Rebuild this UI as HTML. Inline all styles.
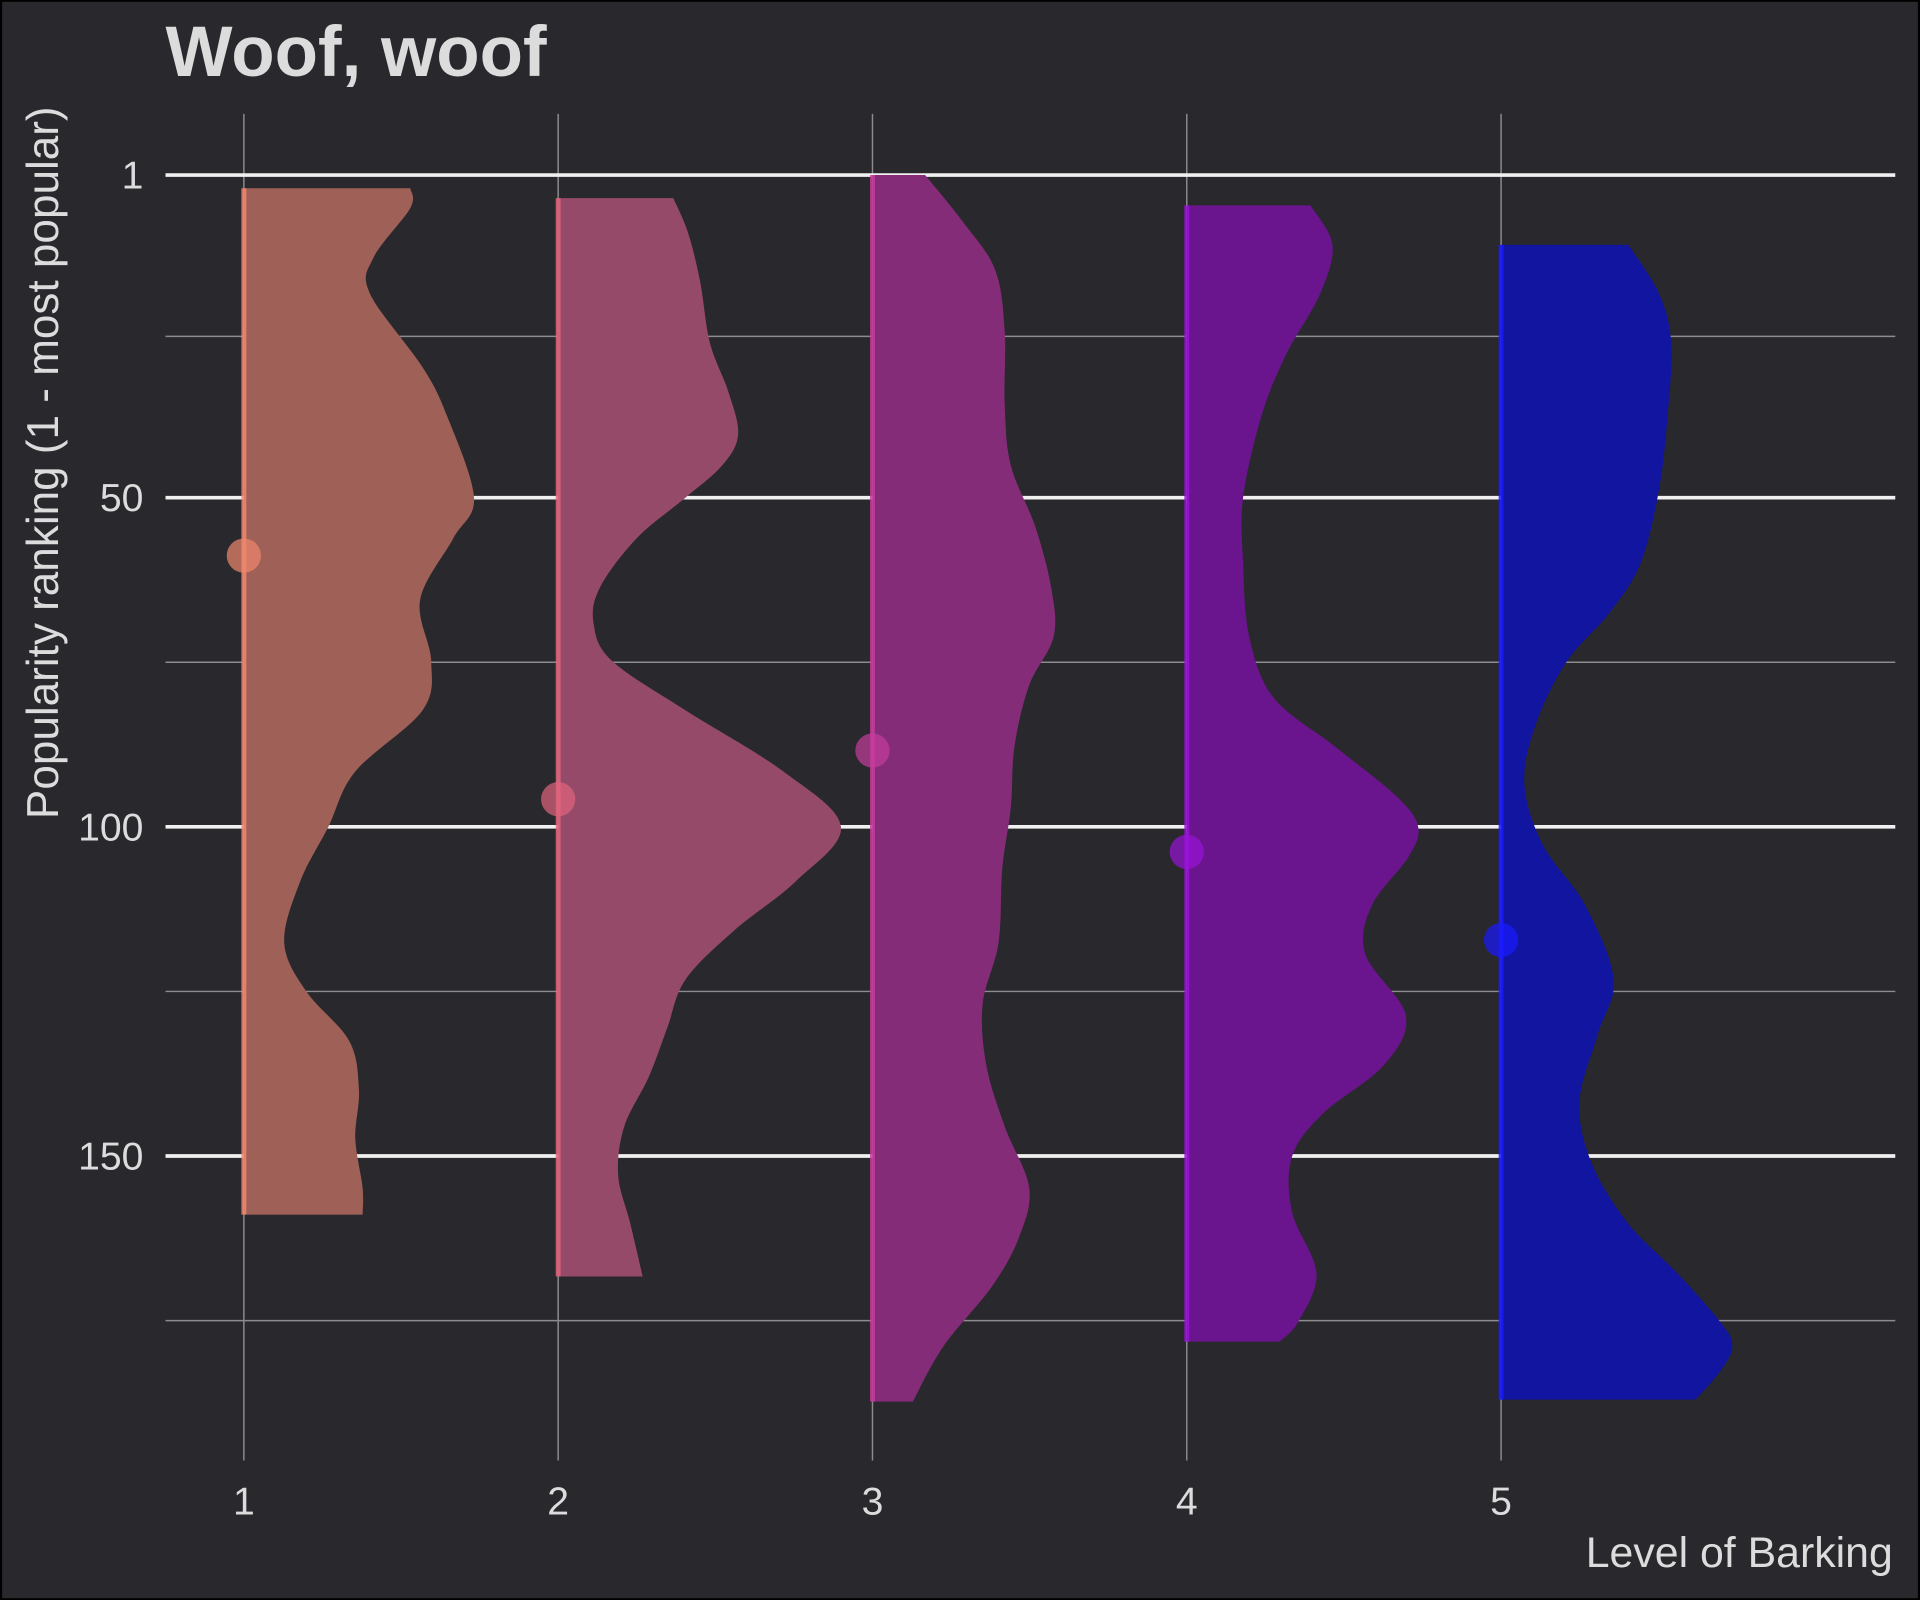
<!DOCTYPE html>
<html><head><meta charset="utf-8"><style>
html,body{margin:0;padding:0;background:#28282d;}
svg{display:block;}
text{font-family:"Liberation Sans",sans-serif;}
</style></head><body>
<svg id="chart" width="1920" height="1600" viewBox="0 0 1568 1307" xmlns="http://www.w3.org/2000/svg">
<rect x="0" y="0" width="1568" height="1307" fill="#28282d" stroke="#000" stroke-width="3"/>
<g id="grid"></g>
<g id="violins"></g>
<g id="axes"></g>
<text x="135" y="62" font-size="58" font-weight="bold" fill="#dcdcdc">Woof, woof</text>
<text transform="translate(47,378) rotate(-90)" text-anchor="middle" font-size="36" fill="#dcdcdc">Popularity ranking (1 - most popular)</text>
<text x="1546" y="1280" text-anchor="end" font-size="35" fill="#dcdcdc">Level of Barking</text>
</svg>
<script>
const categories = [1, 2, 3, 4, 5];
const yMajorTicks = [1, 50, 100, 150];
const yMinorTicks = [25.5, 75, 125, 175];
const means = [58.8, 95.8, 88.4, 103.8, 117.2];
const ranks1 = [3,6,13.5,19,30.2,37.6,50,56.2,65.5,74.8,82.3,91.6,100,108.3,117.6,125,132.5,139.9,147.3,154.8,158.9];
const dens1 = [136,136,106,103,146,166,188,171,144,153,146,91,69,46,33,51,86,94,91,97,97];
const ranks2 = [4.5,9.7,17.2,26.5,33.9,40.4,45.1,50,56.2,63.7,69.2,74.8,82.3,91.6,100,108.3,115.7,123.2,130.6,138,145.5,152.9,160.3,168.3];
const dens2 = [94,106,116,124,139,147,134,104,64,34,29,44,104,184,231,194,144,104,89,74,54,49,59,69];
const ranks3 = [1,7.9,15.3,24.6,35.8,45.1,54.4,63.7,71.1,78.5,87.8,97.1,106.4,117.6,126.9,136.2,145.5,154.8,162.2,169.7,178.9,187.3];
const dens3 = [43,73,100,108,108,113,133,146,148,128,116,113,106,103,90,93,108,128,120,98,58,33];
const ranks4 = [5.6,11.6,19,28.3,37.6,50,59.9,71.1,80.4,87.8,95.3,100,104.6,112,119.4,128.7,136.2,143.6,150.1,158.5,167.8,175.2,178.2];
const dens4 = [101,119,109,81,61,46,46,51,71,121,171,189,181,151,146,179,161,111,86,86,106,91,76];
const ranks5 = [11.6,19,26.5,37.6,48.8,59.9,67.4,74.8,84.1,93.4,102.7,112,123.2,131.5,141.8,151.1,160.3,167.8,175.2,178.9,182.7,187];
const dens5 = [104,129,139,136,129,114,89,54,29,19,34,69,92,79,64,74,104,144,179,189,179,159];

const NS = "http://www.w3.org/2000/svg";
const fills = ["#9f6057","#964a69","#852c78","#6a158d","#1215a0"];
const strokes = ["#f0876e","#e0647e","#c43c9c","#9a12d8","#1a1aff"];
const x = c => 199 + (c - 1) * 256.75;
const y = v => 143 + (v - 1) * 5.378;
const w = d => d * 1.0;
function mk(tag, attrs, parent){const e=document.createElementNS(NS,tag);for(const k in attrs)e.setAttribute(k,attrs[k]);parent.appendChild(e);return e;}
const grid=document.getElementById('grid'), vg=document.getElementById('violins'), ax=document.getElementById('axes');

yMinorTicks.forEach(t=>{
  const l=mk('line',{x1:135,x2:1548,y1:y(t),y2:y(t),stroke:'#8c8c90','stroke-width':1.2},grid);
  
  
});
categories.forEach(c=>{
  const l=mk('line',{x1:x(c),x2:x(c),y1:93,y2:1193,stroke:'#8c8c90','stroke-width':1.2},grid);
  
  
  const t=mk('text',{x:x(c),y:1237,'text-anchor':'middle','font-size':32,fill:'#dcdcdc'},ax);
  t.textContent=c;
  
  
});
yMajorTicks.forEach(t=>{
  const l=mk('line',{x1:135,x2:1548,y1:y(t),y2:y(t),stroke:'#f0f0f0','stroke-width':3},grid);
  
  
  const tx=mk('text',{x:117,y:y(t)+11,'text-anchor':'end','font-size':32,fill:'#dcdcdc'},ax);
  tx.textContent=t;
  
  
});

const R=[ranks1,ranks2,ranks3,ranks4,ranks5], D=[dens1,dens2,dens3,dens4,dens5];
categories.forEach((c,i)=>{
  const x0=x(c);
  const pts=R[i].map((r,j)=>[x0+w(D[i][j]),y(r)]);
  let d=`M${x0},${pts[0][1]} L${pts[0][0]},${pts[0][1]}`;
  for(let j=0;j<pts.length-1;j++){
    const p0=pts[Math.max(0,j-1)],p1=pts[j],p2=pts[j+1],p3=pts[Math.min(pts.length-1,j+2)];
    const c1=[p1[0]+(p2[0]-p0[0])/6,p1[1]+(p2[1]-p0[1])/6];
    const c2=[p2[0]-(p3[0]-p1[0])/6,p2[1]-(p3[1]-p1[1])/6];
    d+=` C${c1[0]},${c1[1]} ${c2[0]},${c2[1]} ${p2[0]},${p2[1]}`;
  }
  d+=` L${x0},${pts[pts.length-1][1]} Z`;
  const p=mk('path',{d:d,fill:fills[i]},vg);
  
  
  const l=mk('line',{x1:x0,x2:x0,y1:pts[0][1],y2:pts[pts.length-1][1],stroke:strokes[i],'stroke-width':4,'stroke-opacity':0.85},vg);
  
  
  const m=mk('circle',{cx:x0,cy:y(means[i]),r:14,fill:strokes[i],'fill-opacity':0.7},vg);
  
  
});
</script>
</body></html>
